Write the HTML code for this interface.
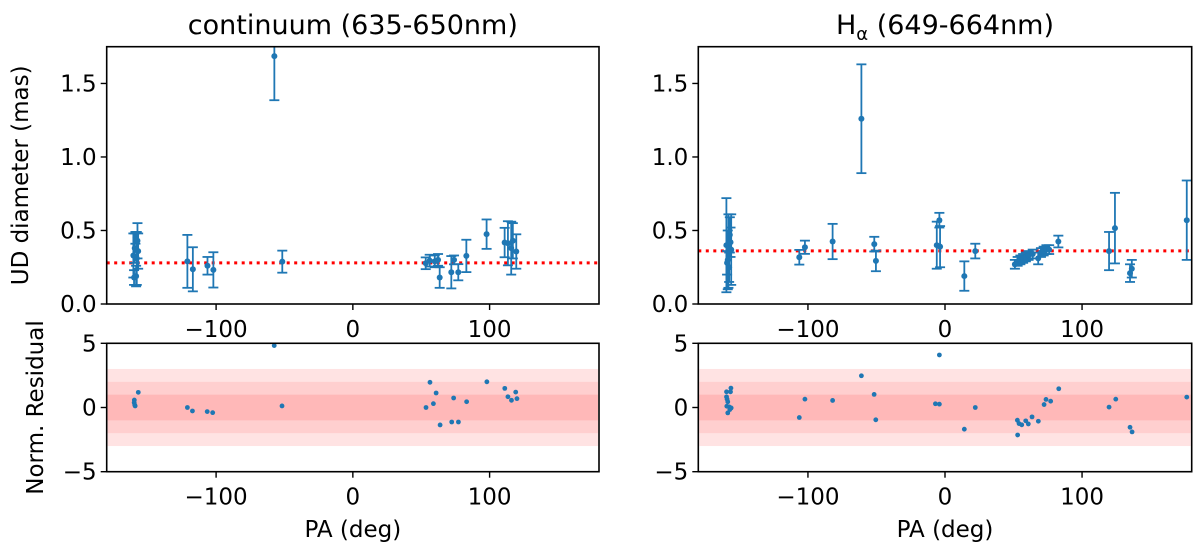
<!DOCTYPE html>
<html><head><meta charset="utf-8"><style>
html,body{margin:0;padding:0;background:#fff;}
svg{display:block;font-family:"DejaVu Sans","Liberation Sans",sans-serif;}
</style></head><body>
<svg id="fig" width="1200" height="551" viewBox="0 0 1200 551" xmlns="http://www.w3.org/2000/svg"></svg>
<script>
// ---- data: continuum ----
const contPA  = [-160.5,-160,-159.5,-159,-158.5,-158,-157.5,-157,-121,-117,-106.3,-102,-57.4,-51.6,53.3,56.2,59.9,62.3,63.5,72,74,77.1,83,97.8,111,113.4,115.8,117,119.5];
const contUD  = [0.33,0.18,0.38,0.45,0.19,0.31,0.43,0.36,0.29,0.236,0.26,0.232,1.686,0.288,0.277,0.295,0.29,0.30,0.18,0.216,0.30,0.216,0.327,0.475,0.418,0.413,0.38,0.43,0.357];
const contErr = [0.15,0.05,0.10,0.04,0.07,0.18,0.12,0.12,0.18,0.15,0.06,0.12,0.30,0.075,0.04,0.04,0.04,0.04,0.07,0.11,0.03,0.055,0.11,0.10,0.10,0.15,0.18,0.12,0.117];
const contFit = 0.28;
const contResPA = [-159.8,-159.9,-159.5,-159.2,-156.9,-121,-117.3,-106.5,-102.5,-57.5,-51.8,53.5,56.4,58.9,60.9,63.8,72.3,73.7,77.2,83.2,98,111.1,113.4,116,119.1,120];
const contRes   = [0.58,0.38,0.2,0.12,1.18,0.0,-0.27,-0.32,-0.40,4.82,0.12,0.0,1.96,0.3,1.13,-1.36,-1.13,0.74,-1.13,0.45,2.0,1.49,0.84,0.56,1.2,0.69];
// ---- data: H-alpha ----
const haPA  = [-159.5,-158,-157,-158.5,-157.5,-156,-159,-156.5,-106.3,-102.2,-82,-61,-51.6,-50.4,-6,-3.6,-4.1,14.1,22.1,51,53,55,57,59,61,64,68,70,72,74,76,82.7,119.7,124,135,136.3,176.4];
const haUD  = [0.40,0.36,0.47,0.30,0.25,0.37,0.28,0.42,0.318,0.386,0.425,1.26,0.407,0.293,0.40,0.39,0.57,0.19,0.36,0.27,0.29,0.30,0.31,0.32,0.33,0.34,0.31,0.35,0.36,0.37,0.37,0.425,0.36,0.516,0.21,0.24,0.57];
const haErr = [0.32,0.25,0.12,0.20,0.10,0.24,0.08,0.10,0.05,0.045,0.12,0.37,0.05,0.07,0.16,0.14,0.05,0.10,0.05,0.03,0.03,0.03,0.03,0.03,0.03,0.03,0.04,0.03,0.03,0.03,0.03,0.04,0.13,0.24,0.06,0.06,0.27];
const haFit = 0.361;
const haResPA = [-159.4,-156.5,-156.2,-159.4,-159,-158.5,-159.2,-157.5,-156,-157,-158.5,-106.3,-102.2,-82,-61,-51.7,-50.5,-4.1,-7,-4.1,14.1,22.1,52.8,54,56,53,58.9,60.8,63.5,68.1,72.3,73.7,77.1,83,119.7,124.6,135,136.5,176.4];
const haRes   = [1.22,1.22,1.51,0.83,0.65,0.44,0.1,0.05,-0.03,-0.16,-0.42,-0.78,0.65,0.55,2.47,1.02,-0.96,4.09,0.29,0.26,-1.69,0.0,-0.99,-1.25,-1.35,-2.14,-1.04,-1.28,-0.73,-1.07,0.23,0.63,0.49,1.46,0.03,0.65,-1.54,-1.9,0.81];
const xTicks = [-100,0,100];
const yTopTicks = [0.0,0.5,1.0,1.5];
const yTopLabels = ["0.0","0.5","1.0","1.5"];
const yBotTicks = [-5,0,5];
const yBotLabels = ["\u22125","0","5"];
const xLabels = ["\u2212100","0","100"];

const NS="http://www.w3.org/2000/svg";
const svg=document.getElementById('fig');
function el(tag,attrs,parent){const e=document.createElementNS(NS,tag);for(const k in attrs)e.setAttribute(k,attrs[k]);(parent||svg).appendChild(e);return e;}
const BLUE="#1f77b4";
const FS=23;
const topY0=46.7, topY1=304, botY0=343.3, botY1=471.7;

function panel(px0,px1,pa,ud,err,fit,rpa,res,title,isLeft,prefix){
  const xs=v=>px0+(v+180)/360*(px1-px0);
  const ys=v=>topY1-(v/1.75)*(topY1-topY0);
  const yr=v=>botY0+(5-v)/10*(botY1-botY0);
  const gT=el('g',{});
  
  
  const fl=el('line',{x1:px0,x2:px1,y1:ys(fit),y2:ys(fit),stroke:'#ff0000','stroke-width':3,'stroke-dasharray':'3,4.5'},gT);
  
  
  for(let i=0;i<pa.length;i++){
    const g=el('g',{},gT);
    
    
    const x=xs(pa[i]),yt=ys(ud[i]+err[i]),yb=ys(Math.max(0,ud[i]-err[i]));
    el('line',{x1:x,x2:x,y1:yt,y2:yb,stroke:BLUE,'stroke-width':1.8},g);
    el('line',{x1:x-5,x2:x+5,y1:yt,y2:yt,stroke:BLUE,'stroke-width':1.8},g);
    el('line',{x1:x-5,x2:x+5,y1:yb,y2:yb,stroke:BLUE,'stroke-width':1.8},g);
    el('circle',{cx:x,cy:ys(ud[i]),r:3,fill:BLUE},g);
  }
  el('rect',{x:px0-6,y:0,width:px1-px0+12,height:topY0,fill:'#fff'},gT);
  el('rect',{x:px0,y:topY0,width:px1-px0,height:topY1-topY0,fill:'none',stroke:'#000','stroke-width':1.6},gT);
  const gB=el('g',{});
  
  
  [[3,'#ffe3e3'],[2,'#ffcfcf'],[1,'#ffb8b8']].forEach(b=>{
    const r=el('rect',{x:px0+1,y:yr(b[0]),width:px1-px0-2,height:yr(-b[0])-yr(b[0]),fill:b[1]},gB);
    
    
  });
  for(let i=0;i<rpa.length;i++){
    const c=el('circle',{cx:xs(rpa[i]),cy:yr(res[i]),r:2.4,fill:BLUE},gB);
    
    
  }
  el('rect',{x:px0,y:botY0,width:px1-px0,height:botY1-botY0,fill:'none',stroke:'#000','stroke-width':1.6},gB);
  xTicks.forEach((t,i)=>{
    [topY1,botY1].forEach((yy,k)=>{
      el('line',{x1:xs(t),x2:xs(t),y1:yy,y2:yy+6,stroke:'#000','stroke-width':1.4});
      const tx=el('text',{x:xs(t),y:yy+33,'font-size':FS,'text-anchor':'middle',fill:'#000'});
      tx.textContent=xLabels[i];
      
      
    });
  });
  yTopTicks.forEach((t,i)=>{
    el('line',{x1:px0-6,x2:px0,y1:ys(t),y2:ys(t),stroke:'#000','stroke-width':1.4});
    const tx=el('text',{x:px0-10,y:ys(t)+8,'font-size':FS,'text-anchor':'end',fill:'#000'});
    tx.textContent=yTopLabels[i];
    
    
  });
  yBotTicks.forEach((t,i)=>{
    el('line',{x1:px0-6,x2:px0,y1:yr(t),y2:yr(t),stroke:'#000','stroke-width':1.4});
    const tx=el('text',{x:px0-10,y:yr(t)+8,'font-size':FS,'text-anchor':'end',fill:'#000'});
    tx.textContent=yBotLabels[i];
    
    
  });
  const xl=el('text',{x:(px0+px1)/2,y:537,'font-size':FS,'text-anchor':'middle',fill:'#000'});
  xl.textContent='PA (deg)';
  
  
  const ti=el('text',{x:(px0+px1)/2,y:34,'font-size':27,'text-anchor':'middle',fill:'#000'});
  
  
  if(title==='Ha'){
    ti.appendChild(document.createTextNode('H'));
    const s=el('tspan',{'font-size':18,dy:6},ti); s.textContent='\u03b1';
    const r=el('tspan',{dy:-6},ti); r.textContent=' (649-664nm)';
  } else ti.textContent=title;
  if(isLeft){
    const yl=el('text',{x:0,y:0,'font-size':FS,'text-anchor':'middle',fill:'#000',transform:'translate(28,'+((topY0+topY1)/2)+') rotate(-90)'});
    yl.textContent='UD diameter (mas)';
    
    
    const y2=el('text',{x:0,y:0,'font-size':FS,'text-anchor':'middle',fill:'#000',transform:'translate(43,'+((botY0+botY1)/2)+') rotate(-90)'});
    y2.textContent='Norm. Residual';
    
    
  }
}
panel(106.7,599,contPA,contUD,contErr,contFit,contResPA,contRes,'continuum (635-650nm)',true,'continuum');
panel(698.3,1191.7,haPA,haUD,haErr,haFit,haResPA,haRes,'Ha',false,'halpha');
</script>
</body></html>
